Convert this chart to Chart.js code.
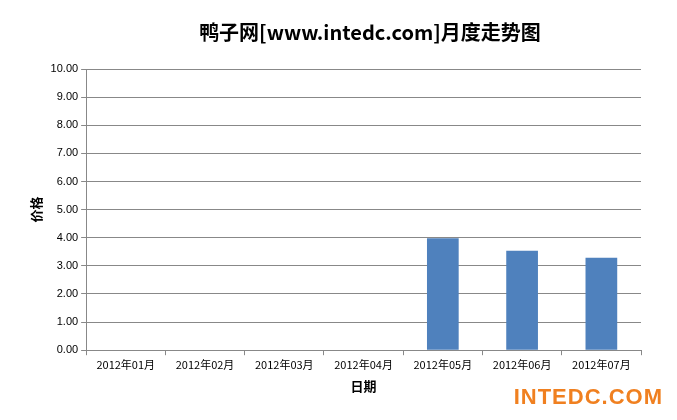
<!doctype html>
<html>
<head>
<meta charset="utf-8">
<style>
  body { margin:0; background:#fff; font-family: "Noto Sans CJK SC", Arial; }
  .wrap { position:relative; width:677px; height:420px; }
  .title { position:absolute; left:0; width:740px; top:17px; text-align:center; font:bold 20px "Noto Sans CJK SC"; color:#000; }
  .brand { position:absolute; right:14px; bottom:10px; font:bold 22px Arial; color:#f08020; letter-spacing:1px; }
</style>
</head>
<body>
<div class="wrap">
  <canvas id="c" width="677" height="420"></canvas>
  <div class="title">鸭子网[www.intedc.com]月度走势图</div>
  <div class="brand">INTEDC.COM</div>
</div>
<script src="https://cdn.jsdelivr.net/npm/chart.js"></script>
<script>
const months = ["2012年01月", "2012年02月", "2012年03月", "2012年04月", "2012年05月", "2012年06月", "2012年07月"];
const prices = [null, null, null, null, 3.98, 3.54, 3.29];

new Chart(document.getElementById("c"), {
  type: "bar",
  data: {
    labels: months,
    datasets: [{ data: prices, backgroundColor: "#4f81bd", barPercentage: 0.4, categoryPercentage: 1 }]
  },
  options: {
    responsive: false,
    animation: false,
    layout: { padding: { left: 24, right: 36, top: 69, bottom: 22 } },
    plugins: { legend: { display: false } },
    scales: {
      x: {
        grid: { drawOnChartArea: false, color: "#888", tickLength: 5 },
        border: { color: "#888" },
        ticks: { color: "#000", font: { size: 11, family: "Noto Sans CJK SC" }, maxRotation: 0 },
        title: { display: true, text: "日期", color: "#000", font: { size: 13, weight: "bold", family: "Noto Sans CJK SC" } }
      },
      y: {
        min: 0, max: 10,
        grid: { color: "#888", tickLength: 5 },
        border: { color: "#888" },
        ticks: { stepSize: 1, color: "#000", font: { size: 11, family: "Liberation Sans" }, callback: v => v.toFixed(2) },
        title: { display: true, text: "价格", color: "#000", font: { size: 13, weight: "bold", family: "Noto Sans CJK SC" } }
      }
    }
  }
});
</script>
</body>
</html>
